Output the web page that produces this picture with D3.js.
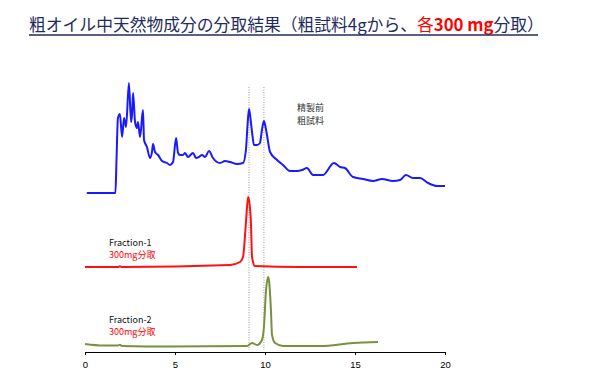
<!DOCTYPE html>
<html><head><meta charset="utf-8">
<script src="https://cdn.jsdelivr.net/npm/d3@7"></script>
<style>
body{margin:0;background:#fff;}
svg{display:block;font-family:"Noto Sans CJK JP","Noto Sans",sans-serif;}
</style></head>
<body>
<svg id="c" width="600" height="386"></svg>
<script>
// time (min) and signal (relative units) for each chromatogram
const crudeTime = [0.1,1.69,1.75,1.83,1.94,2.06,2.17,2.28,2.44,2.56,2.61,2.67,2.78,2.89,2.94,3.06,3.22,3.28,3.44,3.61,3.72,3.78,3.89,4.06,4.28,4.56,4.72,4.89,5.06,5.17,5.28,5.44,5.56,5.72,6.0,6.17,6.33,6.5,6.67,6.89,7.11,7.33,7.5,7.78,8.06,8.44,8.78,8.94,9.03,9.11,9.19,9.28,9.39,9.56,9.72,9.83,9.94,10.03,10.11,10.28,10.67,11.0,11.39,11.78,12.06,12.33,12.67,13.22,13.83,14.17,14.44,14.89,15.44,16.0,16.5,17.11,17.5,17.83,18.22,18.61,19.06,19.56,20.0];
const crudeSignal = [0,0,33,75,79,56,75,66,110,71,78,100,71,65,71,56,83,53,46,35,41,49,41,38,32,30,28,31,55,40,38,38,40,36,40,35,36,38,36,42,35,31,30,32,31,29,30,43,68,84,75,61,48,48,50,63,72,66,58,41,33,28,22,22,23,25,18,18,30,26,25,16,14,12,14,12,13,18,15,15,10,7,7];
const frac1Time = [0,1.83,1.94,2.06,8.06,8.61,8.78,8.94,9.06,9.11,9.22,9.28,9.44,11.94,15.11];
const frac1Signal = [0,0,0.8,0,2,5,10,44,70,67,44,10,1,0,0];
const frac2Time = [0,1.0,1.83,1.94,2.06,4.72,9.0,9.28,9.56,9.83,9.94,10.06,10.17,10.22,10.33,10.39,10.56,11.0,13.06,14.89,16.28];
const frac2Signal = [2,0.5,0.5,1.2,0,-0.5,0,3,1,6,19,56,69,66,36,11,3,0,0,3,4];
const markerTimes = [9.11, 9.94];
const xTicks = [0,5,10,15,20];

const svg = d3.select("#c");
const x = d3.scaleLinear().domain([0,20]).range([85,445]);
const y = d3.scaleLinear().domain([0,100]).range([0,-100]);

// title
const title = svg.append("text").attr("x",29).attr("y",31).attr("font-size",16.8).attr("fill","#1f2d5e");
title.append("tspan").text("粗オイル中天然物成分の分取結果（粗試料4gから、");
title.append("tspan").attr("fill","#ff0000").text("各");
title.append("tspan").attr("fill","#ff0000").attr("font-weight","bold").text("300 mg");
title.append("tspan").text("分取）");
svg.append("line").attr("x1",29).attr("x2",538).attr("y1",35).attr("y2",35)
  .attr("stroke","#1f2d5e").attr("stroke-width",1.3);

// marker lines
svg.selectAll(".mk").data(markerTimes).join("line")
  .attr("x1",d=>x(d)).attr("x2",d=>x(d)).attr("y1",87).attr("y2",350)
  .attr("stroke","#999").attr("stroke-width",1).attr("stroke-dasharray","1,1.5");

function trace(times, sig, base, color){
  const pts = times.map((t,i)=>[t,sig[i]]);
  const line = d3.line().x(d=>x(d[0])).y(d=>base + y(d[1])).curve(d3.curveMonotoneX);
  svg.append("path").datum(pts).attr("d",line).attr("fill","none")
    .attr("stroke",color).attr("stroke-width",2).attr("stroke-linejoin","round");
}
trace(crudeTime, crudeSignal, 193, "#1a1aff");
trace(frac1Time, frac1Signal, 267, "#ff1111");
trace(frac2Time, frac2Signal, 346, "#76923c");

// axis
const ax = svg.append("g").attr("transform","translate(0,352)")
  .call(d3.axisBottom(x).tickValues(xTicks).tickSize(3).tickPadding(6).tickSizeOuter(0));
ax.select(".domain").attr("stroke","#000").attr("stroke-width",1.2);
ax.selectAll(".tick line").attr("stroke","#000");
ax.selectAll(".tick text").attr("font-size",9.5).attr("fill","#000").attr("font-family","Liberation Sans, sans-serif");

// labels
const lab = (tx,ty,txt,col)=>svg.append("text").attr("x",tx).attr("y",ty).attr("font-size",9).attr("fill",col).text(txt);
lab(297,111,"精製前","#333");
lab(297,124,"粗試料","#333");
lab(109,245.5,"Fraction-1","#111");
lab(109,257.5,"300mg分取","#ff0000");
lab(109,322.5,"Fraction-2","#111");
lab(109,334.5,"300mg分取","#ff0000");
</script>
</body></html>
